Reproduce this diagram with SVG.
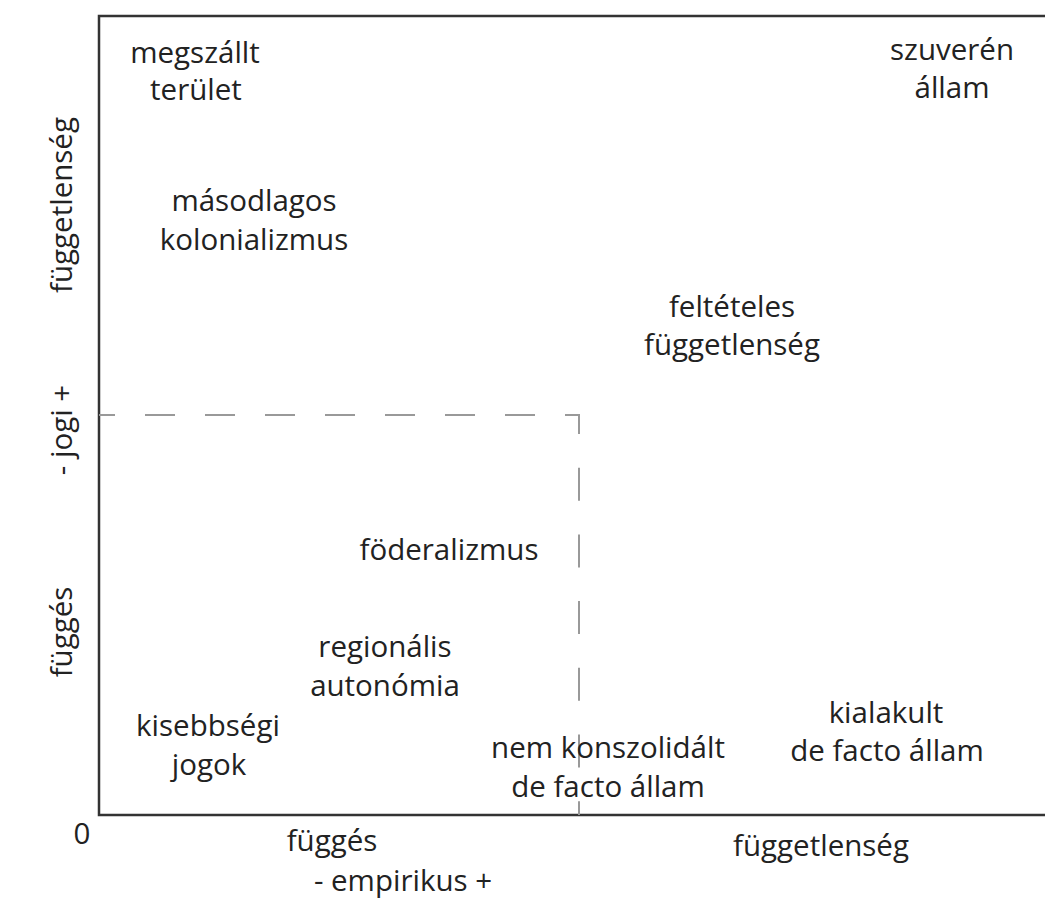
<svg xmlns="http://www.w3.org/2000/svg" width="1045" height="900" viewBox="0 0 1045 900">
<style>
text{font-family:"Open Sans","Noto Sans",sans-serif;font-size:29.5px;fill:#222;text-anchor:middle}
.axis{fill:none;stroke:#333;stroke-width:2.5}
.dash{fill:none;stroke:#999;stroke-width:2}
</style>
<rect width="1045" height="900" fill="#fff"/>
<g id="connectors">
<path class="axis" d="M1045,16 H99 V815 H1045"/>
<path class="dash" d="M99,415 H579" stroke-dasharray="30 30" stroke-dashoffset="14"/>
<path class="dash" d="M579,414 V815" stroke-dasharray="33 33.7" stroke-dashoffset="13"/>
</g>
<g id="n-megszallt"><text x="195" y="63">megszállt</text><text x="196" y="100">terület</text></g>
<g id="n-szuveren"><text x="952" y="60">szuverén</text><text x="952" y="98">állam</text></g>
<g id="n-masodlagos"><text x="254" y="211">másodlagos</text><text x="254" y="250">kolonializmus</text></g>
<g id="n-felteteles"><text x="732" y="317">feltételes</text><text x="732" y="355">függetlenség</text></g>
<g id="n-foderalizmus"><text x="449" y="560">föderalizmus</text></g>
<g id="n-regionalis"><text x="385" y="657">regionális</text><text x="385" y="696">autonómia</text></g>
<g id="n-kisebbsegi"><text x="208" y="736">kisebbségi</text><text x="209" y="775">jogok</text></g>
<g id="n-nemkonszolidalt"><text x="608" y="758">nem konszolidált</text><text x="608" y="797">de facto állam</text></g>
<g id="n-kialakult"><text x="886" y="723">kialakult</text><text x="887" y="761">de facto állam</text></g>
<g id="axis-labels">
<text x="82" y="844">0</text>
<text x="332" y="851">függés</text>
<text x="821" y="856">függetlenség</text>
<text x="403" y="891">- empirikus +</text>
<text transform="translate(72,205) rotate(-90)">függetlenség</text>
<text transform="translate(72,430) rotate(-90)">- jogi +</text>
<text transform="translate(72,632) rotate(-90)">függés</text>
</g>
</svg>
